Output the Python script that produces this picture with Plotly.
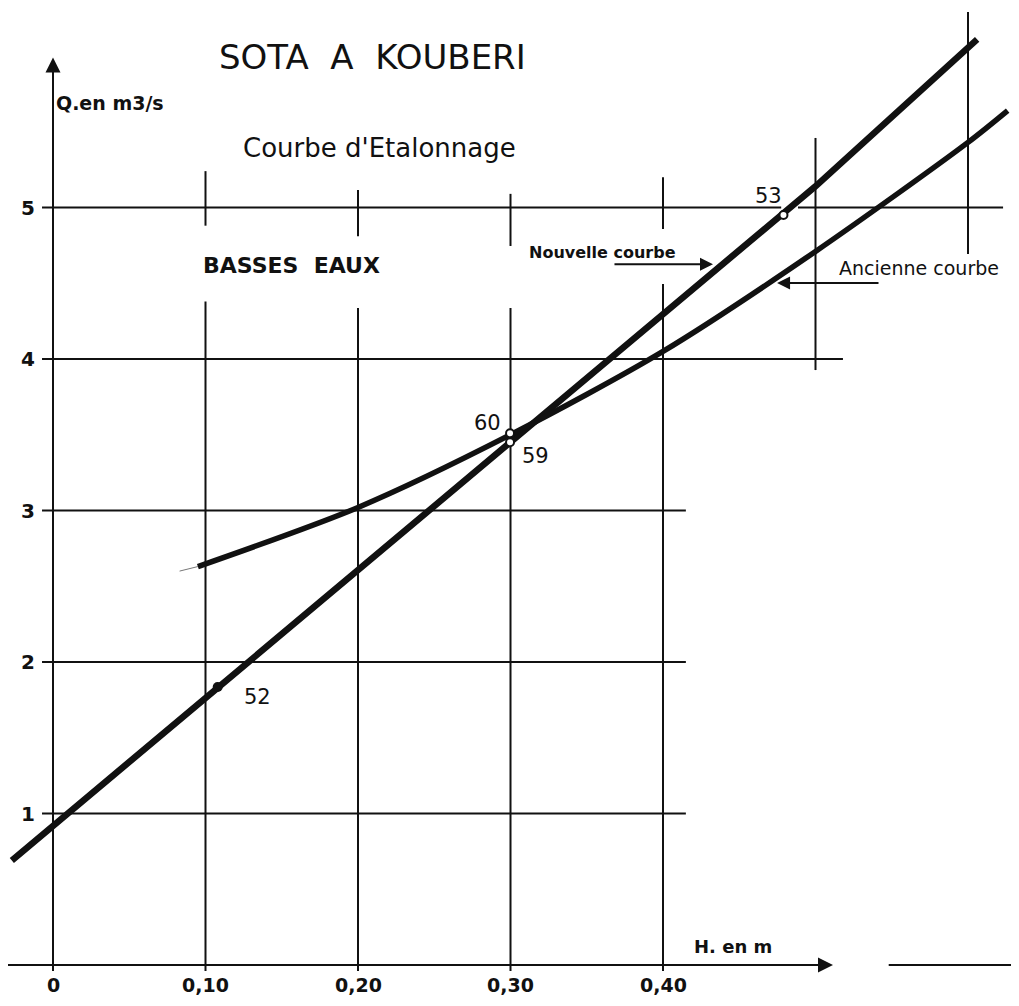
import plotly.graph_objects as go

# ---------------- data (H in m, Q in m3/s) ----------------
new_h = [-0.027, 0.10, 0.20, 0.30, 0.40, 0.50, 0.606]
new_q = [0.69, 1.76, 2.60, 3.45, 4.29, 5.14, 6.11]

old_h = [0.095, 0.20, 0.30, 0.40, 0.50, 0.60, 0.626]
old_q = [2.63, 3.02, 3.50, 4.05, 4.71, 5.43, 5.64]

gaugings_labels = ["52", "53", "60", "59"]
gaugings_h = [0.108, 0.479, 0.2997, 0.2997]
gaugings_q = [1.835, 4.95, 3.51, 3.45]

x_tick_vals = [0, 0.10, 0.20, 0.30, 0.40]
x_tick_text = ["0", "0,10", "0,20", "0,30", "0,40"]
y_tick_vals = [1, 2, 3, 4, 5]
y_tick_text = ["1", "2", "3", "4", "5"]

# horizontal grid segments: (q, h_start, h_end)
h_grid = [(1, -0.0072, 0.415), (2, -0.0072, 0.415), (3, -0.0072, 0.415),
          (4, -0.0072, 0.518), (5, -0.0072, 0.4775), (5, 0.4885, 0.623)]
# vertical grid segments: (h, q_start, q_end)
v_grid = [(0.1, 4.88, 5.24), (0.1, -0.04, 4.38),
          (0.2, 4.81, 5.116), (0.2, -0.04, 4.337),
          (0.3, 4.746, 5.09), (0.3, -0.04, 4.337),
          (0.4, 4.858, 5.20), (0.4, -0.04, 4.495),
          (0.5, 3.927, 5.459), (0.6, 4.693, 6.29)]

FONT = "DejaVu Sans"
INK = "#111111"

fig = go.Figure()

# grid segments
for q, h0, h1 in h_grid:
    fig.add_trace(go.Scatter(x=[h0, h1], y=[q, q], mode="lines",
                             line=dict(color=INK, width=2), hoverinfo="skip"))
for h, q0, q1 in v_grid:
    fig.add_trace(go.Scatter(x=[h, h], y=[q0, q1], mode="lines",
                             line=dict(color=INK, width=2), hoverinfo="skip"))

# axes
fig.add_trace(go.Scatter(x=[0, 0], y=[-0.04, 5.9], mode="lines",
                         line=dict(color=INK, width=2), hoverinfo="skip"))
fig.add_trace(go.Scatter(x=[-0.035, 0.50], y=[0, 0], mode="lines",
                         line=dict(color=INK, width=2), hoverinfo="skip"))
fig.add_trace(go.Scatter(x=[0.548, 0.64], y=[0, 0], mode="lines",
                         line=dict(color=INK, width=2), hoverinfo="skip"))

# curves
fig.add_trace(go.Scatter(x=[0.083, 0.095], y=[2.60, 2.63], mode="lines",
                         line=dict(color="#777777", width=1), hoverinfo="skip"))
fig.add_trace(go.Scatter(x=new_h, y=new_q, mode="lines",
                         line=dict(color=INK, width=6.5), hoverinfo="skip"))
fig.add_trace(go.Scatter(x=old_h, y=old_q, mode="lines",
                         line=dict(color=INK, width=5.5, shape="spline", smoothing=0.8),
                         hoverinfo="skip"))

# gaugings
fig.add_trace(go.Scatter(x=gaugings_h[:1], y=gaugings_q[:1], mode="markers",
                         marker=dict(color=INK, size=10), hoverinfo="skip"))
fig.add_trace(go.Scatter(x=gaugings_h[1:], y=gaugings_q[1:], mode="markers",
                         marker=dict(color="white", size=8, line=dict(color=INK, width=2)),
                         hoverinfo="skip"))

ann = []
def txt(x, y, s, size, bold=False, xanchor="center", family=FONT):
    ann.append(dict(x=x, y=y, xref="x", yref="y", text=("<b>%s</b>" % s) if bold else s,
                    showarrow=False, xanchor=xanchor, yanchor="middle",
                    font=dict(family=family, size=size, color=INK)))

txt(0.2098, 5.993, "SOTA  A  KOUBERI", 34)
txt(0.0007, 5.69, "Q.en m3/s", 19, bold=True, xanchor="left")
txt(0.2144, 5.393, "Courbe d'Etalonnage", 26)
txt(0.1567, 4.62, "BASSES  EAUX", 22, bold=True)
txt(0.3108, 4.70, "Nouvelle courbe", 16, bold=True, xanchor="left")
txt(0.514, 4.60, "Ancienne courbe", 19, xanchor="left")
txt(0.4459, 0.119, "H. en m", 18, bold=True)

label_pos = [(0.1344, 1.769), (0.4689, 5.076), (0.2852, 3.578), (0.3161, 3.36)]
for lab, (lx, ly) in zip(gaugings_labels, label_pos):
    txt(lx, ly, lab, 21)

for v, t in zip(x_tick_vals, x_tick_text):
    txt(v, -0.132, t, 19, bold=True)
for v, t in zip(y_tick_vals, y_tick_text):
    txt(-0.0165, v, t, 20, bold=True)

# arrows
def arrow(x0, y0, x1, y1, size=1.2):
    ann.append(dict(x=x1, y=y1, ax=x0, ay=y0, xref="x", yref="y", axref="x", ayref="y",
                    text="", showarrow=True, arrowhead=2, arrowsize=size,
                    arrowwidth=2, arrowcolor=INK))

arrow(0, 5.5, 0, 5.99, 1.5)                 # Q axis
arrow(0.45, 0, 0.5115, 0, 1.5)              # H axis
arrow(0.3672, 4.625, 0.4328, 4.625, 1.3)     # Nouvelle courbe (underline + arrow)
arrow(0.5423, 4.502, 0.4748, 4.502, 1.3)     # Ancienne courbe

fig.update_layout(
    width=1003, height=990,
    margin=dict(l=0, r=0, t=0, b=0),
    paper_bgcolor="white", plot_bgcolor="white",
    showlegend=False,
    xaxis=dict(range=[-0.02951, 0.62820], visible=False, fixedrange=True),
    yaxis=dict(range=[-0.21782, 6.3168], visible=False, fixedrange=True),
    annotations=ann,
)

fig.write_html("out.html")
